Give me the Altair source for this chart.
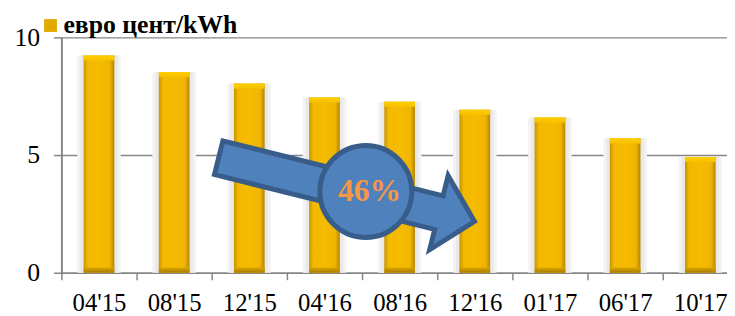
import altair as alt
import pandas as pd

# ---- data ----
periods = ["04'15", "08'15", "12'15", "04'16", "08'16", "12'16", "01'17", "06'17", "10'17"]
prices = [9.23, 8.53, 8.04, 7.45, 7.27, 6.93, 6.60, 5.71, 4.92]
series_name = "евро цент/kWh"
y_ticks = [0, 5, 10]
change_label = "46%"

# annotation anchor points in data units (category index, value)
arrow_at = [3.81, 3.52]
badge_at = [4.05, 3.45]
label_at = [4.10, 3.47]

FONT = "Times New Roman, Liberation Serif, serif"
GRAY = "#868686"
BAND_RANGE = [0, 684]

df = pd.DataFrame({"period": periods, "price": prices, "series": series_name})

x_enc = alt.X(
    "period:N",
    sort=periods,
    scale=alt.Scale(range=BAND_RANGE, paddingInner=0, paddingOuter=0),
    axis=alt.Axis(
        title=None, labelAngle=0, labelFont=FONT, labelFontSize=25, labelColor="black",
        tickBand="extent", tickSize=7, tickColor=GRAY, tickWidth=1.5,
        domainColor=GRAY, domainWidth=1.5, labelPadding=11, grid=False,
    ),
)
y_scale = alt.Scale(domain=[0, 10], nice=False)
y_axis = alt.Axis(
    title=None, values=y_ticks, labelFont=FONT, labelFontSize=26, labelColor="black",
    tickSize=8, tickColor=GRAY, tickWidth=1.5, domainColor=GRAY, domainWidth=2,
    gridColor=GRAY, gridWidth=1.5, labelPadding=14,
)


def yq(field):
    return alt.Y(field, scale=y_scale, axis=y_axis)


base = alt.Chart(df)

shadow_outer = base.mark_bar(width=44, color="#F3F3F3").encode(x=x_enc, y=yq("price:Q"))
shadow = base.mark_bar(width=38, color="#E9E9E9").encode(x=x_enc, y=yq("price:Q"))

main = base.mark_bar(
    width=31,
    color={
        "gradient": "linear", "x1": 0, "x2": 1, "y1": 0, "y2": 0,
        "stops": [
            {"offset": 0, "color": "#C39200"},
            {"offset": 0.13, "color": "#F3B800"},
            {"offset": 0.5, "color": "#F6BC00"},
            {"offset": 0.85, "color": "#F0B500"},
            {"offset": 1, "color": "#B48500"},
        ],
    },
).encode(x=x_enc, y=yq("price:Q"))

cap = base.transform_calculate(lo="datum.price - 0.22").mark_bar(
    width=31,
    color={
        "gradient": "linear", "x1": 0, "x2": 0, "y1": 0, "y2": 1,
        "stops": [
            {"offset": 0, "color": "#FFCF00"},
            {"offset": 1, "color": "#F7C000"},
        ],
    },
).encode(x=x_enc, y=yq("price:Q"), y2="lo:Q")

foot = base.transform_calculate(lo="0", hi="0.22").mark_bar(
    width=31,
    color={
        "gradient": "linear", "x1": 0, "x2": 0, "y1": 0, "y2": 1,
        "stops": [
            {"offset": 0, "color": "#D9A400"},
            {"offset": 1, "color": "#A97D00"},
        ],
    },
).encode(x=x_enc, y=yq("hi:Q"), y2="lo:Q")

legend_layer = base.mark_square(opacity=0).encode(
    x=x_enc,
    y=yq("price:Q"),
    color=alt.Color(
        "series:N",
        scale=alt.Scale(range=["#E2AA00"]),
        legend=alt.Legend(
            title=None, orient="none", legendX=-24, legendY=-25, padding=0,
            symbolType="square", symbolSize=169, symbolOpacity=1, symbolStrokeWidth=0,
            labelFont=FONT, labelFontSize=26, labelFontWeight="bold", labelColor="black",
            labelOffset=0, labelLimit=400,
        ),
    ),
)

bars = alt.layer(shadow_outer, shadow, main, cap, foot, legend_layer)

ann_x = alt.Scale(domain=[0, 9], range=BAND_RANGE, nice=False, zero=False)

arrow_df = pd.DataFrame({"u": [arrow_at[0]], "v": [arrow_at[1]]})
badge_df = pd.DataFrame({"u": [badge_at[0]], "v": [badge_at[1]]})
label_df = pd.DataFrame({"u": [label_at[0]], "v": [label_at[1]], "t": [change_label]})

ARROW = ("M -0.897 -0.117 L 0.633 -0.117 L 0.633 -0.257 L 0.88 0 "
         "L 0.633 0.257 L 0.633 0.117 L -0.897 0.117 Z")

ux = alt.X("u:Q", scale=ann_x, axis=None)

arrow = alt.Chart(arrow_df).mark_point(
    shape=ARROW, size=90000, angle=14, filled=True, opacity=1,
    fill="#4F81BD", stroke="#385D8A", strokeWidth=5, strokeJoin="miter",
).encode(x=ux, y=yq("v:Q"))

badge = alt.Chart(badge_df).mark_circle(
    size=8649, opacity=1, fill="#4F81BD", stroke="#385D8A", strokeWidth=5,
).encode(x=ux, y=yq("v:Q"))

label = alt.Chart(label_df).mark_text(
    font=FONT, fontSize=32, fontWeight="bold", color="#F79646",
    align="center", baseline="middle",
).encode(x=ux, y=yq("v:Q"), text="t:N")

ann = alt.layer(arrow, badge, label)

chart = (
    alt.layer(bars, ann)
    .resolve_scale(x="independent")
    .resolve_axis(x="independent")
    .properties(
        width=673,
        height=238,
        autosize=alt.AutoSizeParams(type="none"),
        padding={"left": 54, "top": 28, "right": 0, "bottom": 42},
    )
    .configure_view(stroke=None)
)

chart.save("out.html", embed_options={"renderer": "svg", "actions": False})
